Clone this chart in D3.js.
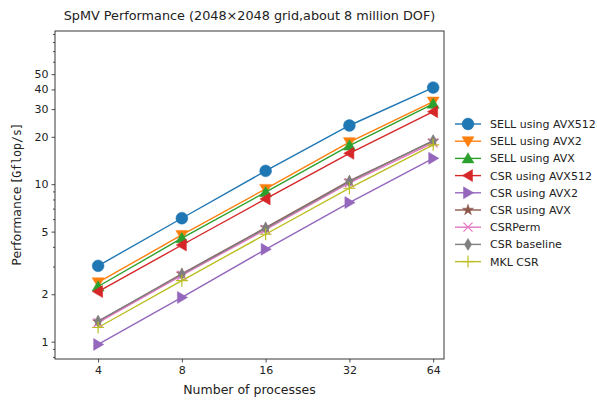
<!DOCTYPE html>
<html>
<head>
<meta charset="utf-8">
<script src="https://cdn.jsdelivr.net/npm/d3@7"></script>
<style>
  body { margin: 0; background: #fff; }
  text { font-family: "DejaVu Sans", sans-serif; fill: #222; }
</style>
</head>
<body>
<svg id="chart" width="597" height="400"></svg>
<script>
// number of processes
const procs = [4, 8, 16, 32, 64];
const yTickValues = [1, 2, 5, 10, 20, 30, 40, 50];

// Gflop/s per series
const sellAvx512 = [3.03, 6.08, 12.15, 23.6, 41.1];
const sellAvx2 = [2.38, 4.76, 9.34, 18.5, 33.5];
const sellAvx = [2.24, 4.54, 8.9, 17.6, 32.4];
const csrAvx512 = [2.08, 4.11, 8.07, 15.7, 28.9];
const csrAvx2 = [0.96, 1.91, 3.86, 7.64, 14.6];
const csrAvx = [1.34, 2.70, 5.3, 10.5, 18.8];
const csrPerm = [1.32, 2.64, 5.15, 10.2, 18.3];
const csrBaseline = [1.35, 2.68, 5.25, 10.4, 18.9];
const mklCsr = [1.23, 2.44, 4.81, 9.43, 17.8];

const series = [
  {name: "SELL using AVX512", values: sellAvx512, color: "#1f77b4", marker: "circle"},
  {name: "SELL using AVX2", values: sellAvx2, color: "#ff7f0e", marker: "down"},
  {name: "SELL using AVX", values: sellAvx, color: "#2ca02c", marker: "up"},
  {name: "CSR using AVX512", values: csrAvx512, color: "#d62728", marker: "left"},
  {name: "CSR using AVX2", values: csrAvx2, color: "#9467bd", marker: "right"},
  {name: "CSR using AVX", values: csrAvx, color: "#8c564b", marker: "star"},
  {name: "CSRPerm", values: csrPerm, color: "#e377c2", marker: "x"},
  {name: "CSR baseline", values: csrBaseline, color: "#7f7f7f", marker: "diamond"},
  {name: "MKL CSR", values: mklCsr, color: "#bcbd22", marker: "plus"}
];

const margin = {top: 31, right: 153, bottom: 41, left: 55};
const width = 597 - margin.left - margin.right,
      height = 400 - margin.top - margin.bottom;

const svg = d3.select("#chart");
const g = svg.append("g")
    .attr("transform", "translate(" + margin.left + "," + margin.top + ")");

const x = d3.scaleLog().base(2).domain([2.8, 70]).range([0, width]);
const y = d3.scaleLog().domain([0.776, 94]).range([height, 0]);

// minor ticks: k*10^n not in major list
const minorTicks = [];
[0.1, 1, 10].forEach(function(p) {
  for (let k = 1; k <= 9; k++) {
    const v = +(k * p).toPrecision(3);
    if (v >= y.domain()[0] && v <= y.domain()[1] && !yTickValues.includes(v)) minorTicks.push(v);
  }
});

g.append("g")
    .call(d3.axisLeft(y).tickValues(minorTicks).tickSize(2).tickFormat(""))
    .call(a => a.select(".domain").remove())
    .call(a => a.selectAll("line").attr("stroke", "#222").attr("stroke-width", 0.8));

const yAxis = g.append("g")
    .call(d3.axisLeft(y).tickValues(yTickValues).tickSize(3.5).tickPadding(3).tickFormat(d3.format("d")));
yAxis.select(".domain").remove();
yAxis.selectAll("line").attr("stroke", "#222").attr("stroke-width", 0.8);
yAxis.selectAll("text").style("font-family", "DejaVu Sans").style("font-size", "11px").attr("fill", "#222");

const xAxis = g.append("g")
    .attr("transform", "translate(0," + height + ")")
    .call(d3.axisBottom(x).tickValues(procs).tickSize(3.5).tickPadding(4).tickFormat(d3.format("d")));
xAxis.select(".domain").remove();
xAxis.selectAll("line").attr("stroke", "#222").attr("stroke-width", 0.8);
xAxis.selectAll("text").style("font-family", "DejaVu Sans").style("font-size", "11px").attr("fill", "#222");

// frame
g.append("rect")
    .attr("width", width).attr("height", height)
    .attr("fill", "none").attr("stroke", "#222").attr("stroke-width", 0.9);

function markerPath(type) {
  const r = 6;
  switch (type) {
    case "down": return "M" + (-r) + "," + (-r * 0.75) + "L" + r + "," + (-r * 0.75) + "L0," + (r * 0.95) + "Z";
    case "up": return "M" + (-r) + "," + (r * 0.75) + "L" + r + "," + (r * 0.75) + "L0," + (-r * 0.95) + "Z";
    case "left": return "M" + (r * 0.75) + "," + (-r) + "L" + (r * 0.75) + "," + r + "L" + (-r * 0.95) + ",0Z";
    case "right": return "M" + (-r * 0.75) + "," + (-r) + "L" + (-r * 0.75) + "," + r + "L" + (r * 0.95) + ",0Z";
    case "diamond": return "M0," + (-r) + "L" + (r * 0.6) + ",0L0," + r + "L" + (-r * 0.6) + ",0Z";
    case "x": return "M-4.5,-4.5L4.5,4.5M-4.5,4.5L4.5,-4.5";
    case "plus": return "M-6,0L6,0M0,-6L0,6";
    case "star": return d3.symbol(d3.symbolStar, 38)();
    default: return d3.symbol(d3.symbolCircle, 110)();
  }
}

const line = d3.line()
    .x((d, i) => x(procs[i]))
    .y(d => y(d));

series.forEach(function(s) {
  const sg = g.append("g");
  sg.append("path")
      .datum(s.values)
      .attr("d", line)
      .attr("fill", "none")
      .attr("stroke", s.color)
      .attr("stroke-width", 1.4);
  const open = s.marker === "x" || s.marker === "plus";
  sg.selectAll("path.m")
      .data(s.values)
      .enter().append("path")
      .attr("class", "m")
      .attr("transform", (d, i) => "translate(" + x(procs[i]) + "," + y(d) + ")")
      .attr("d", markerPath(s.marker))
      .attr("fill", open ? "none" : s.color)
      .attr("stroke", s.color)
      .attr("stroke-width", open ? 1.2 : 0.5);
});

// legend
const legend = svg.append("g").attr("transform", "translate(455,124)");
series.forEach(function(s, i) {
  const row = legend.append("g").attr("transform", "translate(0," + (i * 17.2) + ")");
  row.append("line").attr("x1", 0).attr("x2", 26)
      .attr("stroke", s.color).attr("stroke-width", 1.4);
  const open = s.marker === "x" || s.marker === "plus";
  row.append("path")
      .attr("transform", "translate(13,0)")
      .attr("d", markerPath(s.marker))
      .attr("fill", open ? "none" : s.color)
      .attr("stroke", s.color)
      .attr("stroke-width", open ? 1.2 : 0.5);
  row.append("text")
      .attr("x", 35).attr("y", 4)
      .style("font-size", "11px")
      .text(s.name);
});

// title and labels
svg.append("text")
    .attr("x", margin.left + width / 2).attr("y", 20)
    .attr("text-anchor", "middle")
    .style("font-size", "12.8px")
    .text("SpMV Performance (2048\u00d72048 grid,about 8 million DOF)");

svg.append("text")
    .attr("x", margin.left + width / 2).attr("y", 394)
    .attr("text-anchor", "middle")
    .style("font-size", "12.5px")
    .text("Number of processes");

const ylab = svg.append("text")
    .attr("transform", "translate(21," + (margin.top + height / 2) + ") rotate(-90)")
    .attr("text-anchor", "middle")
    .style("font-size", "12.5px");
ylab.append("tspan").text("Performance [");
ylab.append("tspan").style("font-family", "DejaVu Sans Mono").style("font-size", "11.5px").text("Gflop/s");
ylab.append("tspan").text("]");
</script>
</body>
</html>
